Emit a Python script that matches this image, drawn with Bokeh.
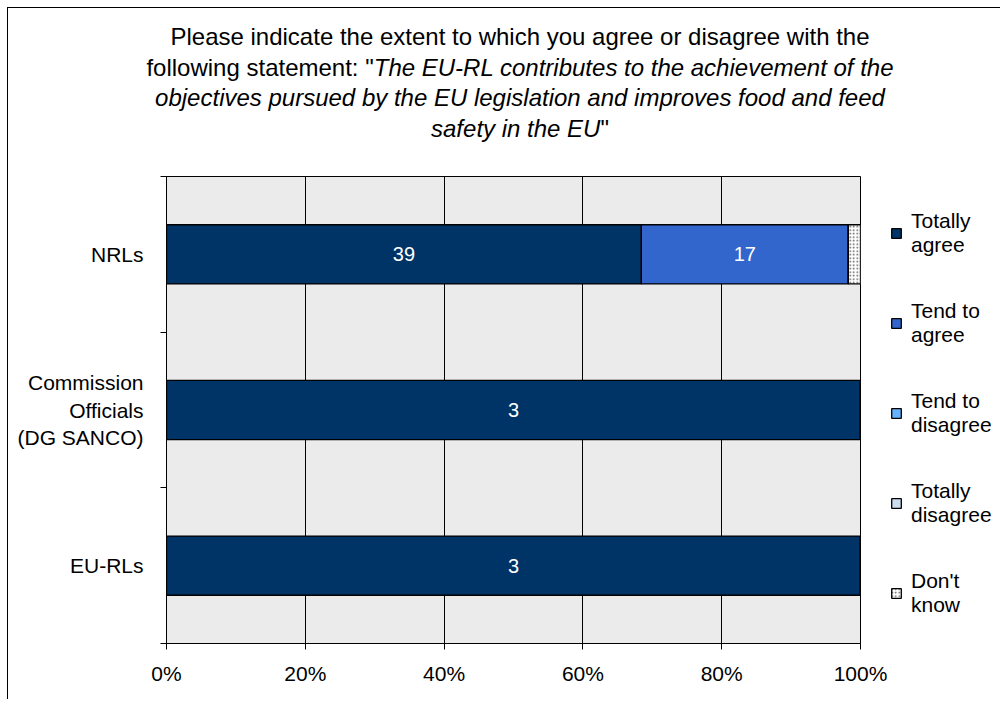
from bokeh.plotting import figure
from bokeh.layouts import column
from bokeh.models import (ColumnDataSource, FixedTicker, NumeralTickFormatter,
                          Legend, LegendItem, Range1d, Div)
from bokeh.core.properties import value
from bokeh.embed import file_html
from bokeh.resources import INLINE

# ---------------- data ----------------
groups = ["EU-RLs", "Commission Officials (DG SANCO)", "NRLs"]
group_tick_labels = ["EU-RLs", "Commission\nOfficials\n(DG SANCO)", "NRLs"]
series_names = ["Totally agree", "Tend to agree", "Tend to disagree",
                "Totally disagree", "Don't know"]
legend_labels = ["Totally\nagree", "Tend to\nagree", "Tend to\ndisagree",
                 "Totally\ndisagree", "Don't\nknow"]
totally_agree = [3, 3, 39]
tend_to_agree = [0, 0, 17]
tend_to_disagree = [0, 0, 0]
totally_disagree = [0, 0, 0]
dont_know = [0, 0, 1]
x_tick_values = [0, 0.2, 0.4, 0.6, 0.8, 1.0]

title_line1 = "Please indicate the extent to which you agree or disagree with the"
title_line2_normal = 'following statement: "'
title_line2_italic = "The EU-RL contributes to the achievement of the"
title_line3_italic = "objectives pursued by the EU legislation and improves food and feed"
title_line4_italic = "safety in the EU"
title_line4_normal = '"'

# ---------------- styling ----------------
colors = ["#003366", "#3366CC", "#66B2FF", "#CCDDF0", "#FFFFFF"]
FONT = "Liberation Sans"
FRAME_W, FRAME_H = 694, 467
BL, BR, BB = 158, 139, 56
TITLE_H = 150
BT = 168 - TITLE_H
TOTAL_W = BL + FRAME_W + BR

series_values = [totally_agree, tend_to_agree, tend_to_disagree,
                 totally_disagree, dont_know]
n_groups = len(groups)
y_pos = [i + 0.5 for i in range(n_groups)]
totals = [sum(s[i] for s in series_values) for i in range(n_groups)]

# ---------------- main chart ----------------
p = figure(output_backend="svg", toolbar_location=None,
           frame_width=FRAME_W, frame_height=FRAME_H,
           min_border_left=BL, min_border_top=BT,
           min_border_right=BR, min_border_bottom=BB,
           x_range=Range1d(0, 1), y_range=Range1d(0, n_groups))
p.background_fill_color = "#EBEBEB"
p.border_fill_color = "white"
p.outline_line_color = "black"
p.outline_line_width = 1

renderers = []
cum = [0.0] * n_groups
for k, (name, vals) in enumerate(zip(series_names, series_values)):
    left = [cum[i] for i in range(n_groups)]
    right = [cum[i] + vals[i] / totals[i] for i in range(n_groups)]
    cum = right
    src = ColumnDataSource(dict(
        y=y_pos, left=left, right=right, count=vals,
        mid=[(l + r) / 2 for l, r in zip(left, right)],
        label=[str(v) if (r - l) >= 0.05 else "" for v, l, r in zip(vals, left, right)]))
    kw = dict(fill_color=colors[k], line_color="black", line_width=1.3)
    if name == "Don't know":
        kw.update(hatch_pattern="dot", hatch_color="#555555", hatch_scale=3.5, hatch_weight=0.8)
    r = p.hbar(y="y", left="left", right="right", height=0.38, source=src, **kw)
    renderers.append(r)
    p.text(x="mid", y="y", text="label", source=src, text_color="white",
           text_align="center", text_baseline="middle",
           text_font=value(FONT), text_font_size="20px")

# axes
p.xaxis.ticker = FixedTicker(ticks=x_tick_values)
p.xaxis.formatter = NumeralTickFormatter(format="0%")
p.xaxis.major_tick_out = 6
p.xaxis.major_tick_in = 0
p.xaxis.minor_tick_out = 0
p.xaxis.axis_line_color = "black"
p.xaxis.major_tick_line_color = "black"
p.xaxis.major_label_text_font = FONT
p.xaxis.major_label_text_font_size = "21px"
p.xaxis.major_label_text_color = "black"
p.xaxis.major_label_standoff = 12

p.yaxis.ticker = FixedTicker(ticks=y_pos, minor_ticks=[float(i) for i in range(n_groups + 1)])
p.yaxis.major_label_overrides = {yp: lab for yp, lab in zip(y_pos, group_tick_labels)}
p.yaxis.major_tick_out = 0
p.yaxis.major_tick_in = 0
p.yaxis.minor_tick_out = 6
p.yaxis.minor_tick_in = 0
p.yaxis.minor_tick_line_color = "black"
p.yaxis.axis_line_color = "black"
p.yaxis.major_label_text_font = FONT
p.yaxis.major_label_text_font_size = "21px"
p.yaxis.major_label_text_color = "black"
p.yaxis.major_label_standoff = 17

p.xgrid.ticker = FixedTicker(ticks=x_tick_values)
p.xgrid.grid_line_color = "black"
p.xgrid.grid_line_width = 1
p.ygrid.grid_line_color = None

# legend (location = offset of legend's bottom-left from the panel's bottom-left)
LEG_ITEM_H, LEG_SPACING = 48, 42
leg_h = len(series_names) * LEG_ITEM_H + (len(series_names) - 1) * LEG_SPACING
items = [LegendItem(label=lab, renderers=[r]) for lab, r in zip(legend_labels, renderers)]
legend = Legend(items=items, location=(30, FRAME_H - 33 - leg_h))
legend.label_text_font = FONT
legend.label_text_font_size = "21px"
legend.label_text_color = "black"
legend.glyph_width = 12
legend.glyph_height = 12
legend.label_standoff = 9
legend.spacing = LEG_SPACING
legend.padding = 0
legend.margin = 0
legend.border_line_color = None
legend.background_fill_alpha = 0
p.add_layout(legend, "right")

# ---------------- title (mixed roman / italic) ----------------
title_html = (
    '<div style="width:900px; margin-left:62px; padding-top:14px; text-align:center; '
    'font-family:\'Liberation Sans\', Arial, sans-serif; font-size:24px; '
    'line-height:30.5px; color:black; white-space:nowrap;">'
    f'{title_line1}<br>'
    f'{title_line2_normal.replace(chr(34), "&quot;")}<i>{title_line2_italic}</i><br>'
    f'<i>{title_line3_italic}</i><br>'
    f'<i>{title_line4_italic}</i>{title_line4_normal.replace(chr(34), "&quot;")}'
    '</div>'
)
title_div = Div(text=title_html, width=TOTAL_W, height=TITLE_H,
                styles={"background-color": "white", "margin": "0", "padding": "0"})

layout = column(title_div, p, spacing=0)
layout.styles = {"border-top": "1px solid black", "border-left": "1px solid black",
                 "margin-left": "7px", "margin-top": "7px"}

open("out.html", "w").write(file_html(layout, INLINE))
